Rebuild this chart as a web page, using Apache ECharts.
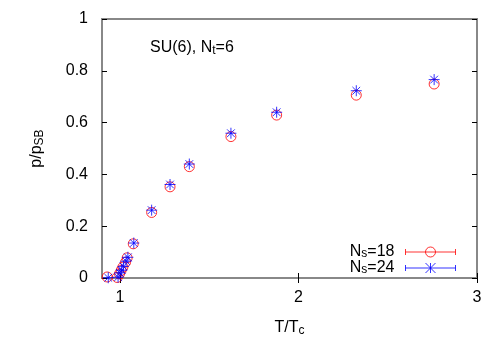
<!DOCTYPE html>
<html>
<head>
<meta charset="utf-8">
<script src="https://cdn.jsdelivr.net/npm/echarts@6/dist/echarts.min.js"></script>
<style>
  html, body { margin: 0; padding: 0; background: #fff; }
  #chart { width: 500px; height: 350px; }
</style>
</head>
<body>
<div id="chart"></div>
<script>
// T/Tc and p/pSB
const tNs18 = [0.929, 0.985, 0.998, 1.007, 1.017, 1.032, 1.041, 1.075, 1.178, 1.281, 1.389, 1.622, 1.878, 2.324, 2.760]
const pNs18 = [0.004, 0.002, 0.016, 0.029, 0.042, 0.061, 0.078, 0.132, 0.253, 0.352, 0.430, 0.546, 0.629, 0.706, 0.749]
const tNs24 = [0.935, 0.990, 1.000, 1.010, 1.020, 1.035, 1.045, 1.078, 1.178, 1.281, 1.389, 1.622, 1.878, 2.324, 2.760]
const pNs24 = [0.001, 0.003, 0.020, 0.030, 0.045, 0.065, 0.080, 0.135, 0.262, 0.361, 0.440, 0.559, 0.640, 0.723, 0.766]
const xTicks = [1, 2, 3]
const yTicks = [0, 0.2, 0.4, 0.6, 0.8, 1]

const font = 'Liberation Sans, Arial, sans-serif'
const sub = { fontSize: 12, verticalAlign: 'bottom', padding: [7, 0, 0, 0], fontFamily: font, color: '#000' }

const circleIcon = 'path://M0,5L50,5M0,2L0,8M50,2L50,8M30,5A5,5 0 1 1 20,5A5,5 0 1 1 30,5'
const starIcon = 'path://M0,5L50,5M0,2L0,8M50,2L50,8M25,0L25,10M20,0L30,10M20,10L30,0'
const starSym = 'path://M5,0L5,10M0,5L10,5M1.5,1.5L8.5,8.5M1.5,8.5L8.5,1.5'

function zip(a, b) {
  return a.map(function(v, i) { return [v, b[i]] })
}

function xAxisOpt(pos, labels) {
  return {
    type: 'value', position: pos, min: 0.9, max: 3,
    splitLine: { show: false },
    axisLine: { show: false },
    axisTick: { show: true, inside: true, length: 5, customValues: xTicks, lineStyle: { color: '#000' } },
    axisLabel: { show: labels, customValues: xTicks, margin: 12, fontSize: 16, color: '#000', fontFamily: font },
    name: labels ? 'T/T{sub|c}' : '',
    nameLocation: 'middle', nameGap: 40,
    nameTextStyle: { fontSize: 16, color: '#000', fontFamily: font, rich: { sub: sub } }
  }
}

function yAxisOpt(pos, labels) {
  return {
    type: 'value', position: pos, min: 0, max: 1,
    splitLine: { show: false },
    axisLine: { show: false },
    axisTick: { show: true, inside: true, length: 5, customValues: yTicks, lineStyle: { color: '#000' } },
    axisLabel: { show: labels, customValues: yTicks, margin: 14, fontSize: 16, color: '#000', fontFamily: font },
    name: labels ? 'p/p{sub|SB}' : '',
    nameLocation: 'middle', nameGap: 56, nameRotate: 90,
    nameTextStyle: { fontSize: 16, color: '#000', fontFamily: font, rich: { sub: sub } }
  }
}

const myChart = echarts.init(document.getElementById('chart'))
const option = {
  animation: false,
  backgroundColor: '#fff',
  grid: { left: 102, right: 23, top: 19, bottom: 72, show: true, borderColor: '#888', borderWidth: 2 },
  title: {
    text: 'SU(6), N{sub|t}=6',
    left: 145, top: 33,
    textStyle: { fontSize: 16, fontWeight: 'normal', color: '#000', fontFamily: font, rich: { sub: sub } }
  },
  legend: {
    orient: 'vertical', right: 37, bottom: 69, align: 'right', itemGap: 0,
    itemWidth: 50, itemHeight: 10,
    itemStyle: { borderWidth: 1 },
    formatter: function(name) { return name === 'Ns18' ? 'N{sub|s}=18' : 'N{sub|s}=24' },
    textStyle: { fontSize: 16, lineHeight: 16, color: '#000', fontFamily: font, padding: [0, 6, 0, 0], rich: { sub: sub } },
    data: [{ name: 'Ns18', icon: circleIcon }, { name: 'Ns24', icon: starIcon }]
  },
  xAxis: [xAxisOpt('bottom', true), xAxisOpt('top', false)],
  yAxis: [yAxisOpt('left', true), yAxisOpt('right', false)],
  series: [
    {
      name: 'Ns18', type: 'scatter', symbol: 'circle', symbolSize: 10,
      itemStyle: { color: 'none', borderColor: '#ff0000', borderWidth: 1 },
      data: zip(tNs18, pNs18)
    },
    {
      name: 'Ns24', type: 'scatter', symbol: starSym, symbolSize: 11,
      itemStyle: { color: 'none', borderColor: '#0000ff', borderWidth: 1 },
      data: zip(tNs24, pNs24)
    }
  ]
}
myChart.setOption(option)
</script>
</body>
</html>
